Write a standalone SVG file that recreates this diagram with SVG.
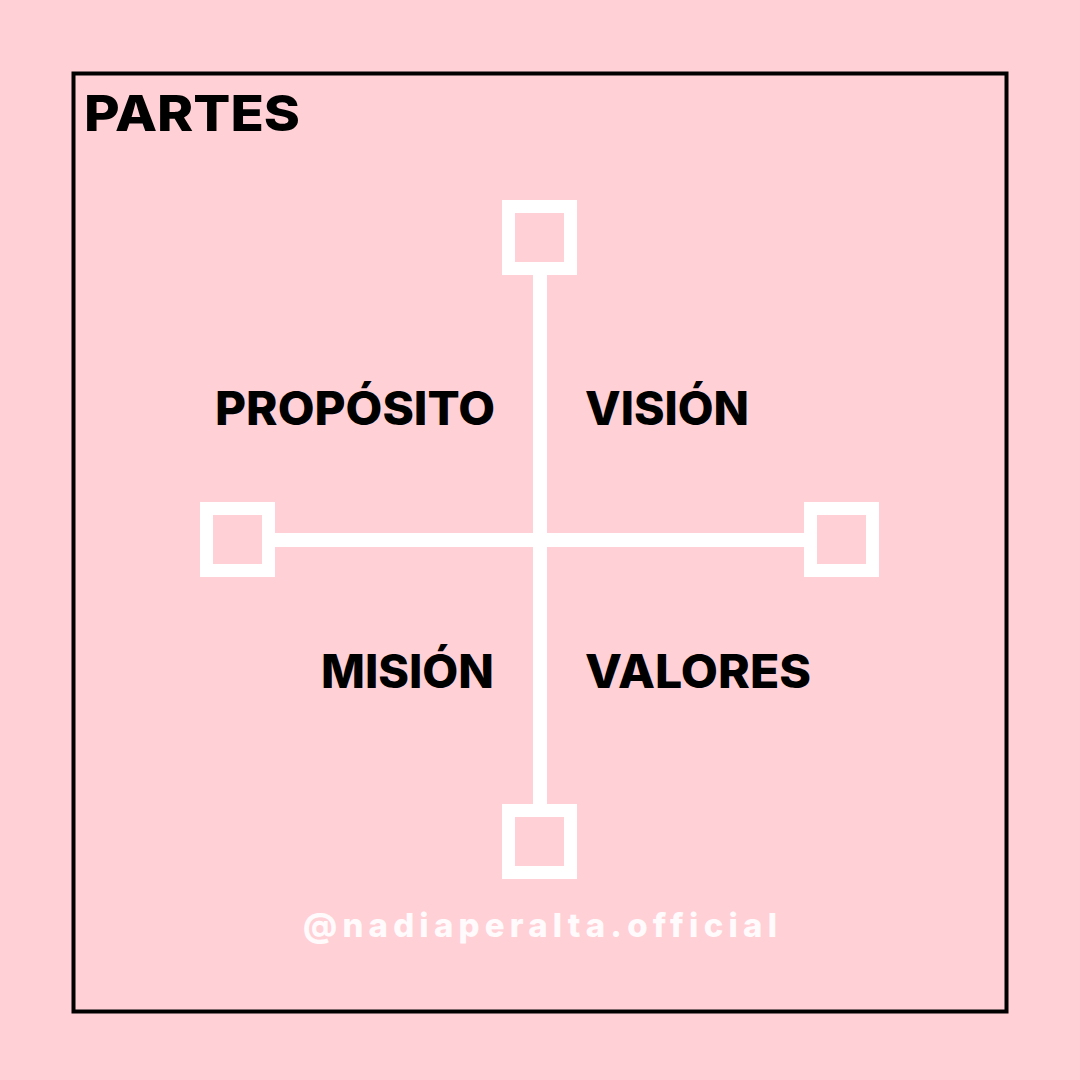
<svg xmlns="http://www.w3.org/2000/svg" width="1080" height="1080" viewBox="0 0 1080 1080">
<style>
.lbl{font-family:"Inter","Liberation Sans",sans-serif;font-weight:800;fill:#000;}
.box{fill:none;stroke:#fff;stroke-width:13;}
.ln{stroke:#fff;stroke-width:14;}
</style>
<rect width="1080" height="1080" fill="#FFD1D7"/>
<rect x="73.5" y="73.5" width="933" height="938" fill="none" stroke="#000" stroke-width="4"/>
<text class="lbl" x="84" y="131" font-size="50" textLength="216" lengthAdjust="spacingAndGlyphs">PARTES</text>
<g id="connectors">
<line class="ln" x1="540" y1="270" x2="540" y2="810"/>
<line class="ln" x1="270" y1="540" x2="810" y2="540"/>
</g>
<g id="node-top"><rect class="box" x="508.5" y="206.5" width="62" height="62"/></g>
<g id="node-left"><rect class="box" x="206.5" y="508.5" width="62" height="62"/></g>
<g id="node-right"><rect class="box" x="810.5" y="508.5" width="62" height="62"/></g>
<g id="node-bottom"><rect class="box" x="508.5" y="810.5" width="62" height="62"/></g>
<text class="lbl" x="215" y="425" font-size="46" textLength="280" lengthAdjust="spacingAndGlyphs">PROPÓSITO</text>
<text class="lbl" x="585" y="425" font-size="46" textLength="164" lengthAdjust="spacingAndGlyphs">VISIÓN</text>
<text class="lbl" x="321" y="688" font-size="46" textLength="173" lengthAdjust="spacingAndGlyphs">MISIÓN</text>
<text class="lbl" x="585" y="688" font-size="46" textLength="226" lengthAdjust="spacingAndGlyphs">VALORES</text>
<text x="303" y="937" font-family="Inter,'Liberation Sans',sans-serif" font-weight="800" font-size="33" fill="#fff" fill-opacity="0.92" textLength="474" lengthAdjust="spacing">@nadiaperalta.official</text>
</svg>
